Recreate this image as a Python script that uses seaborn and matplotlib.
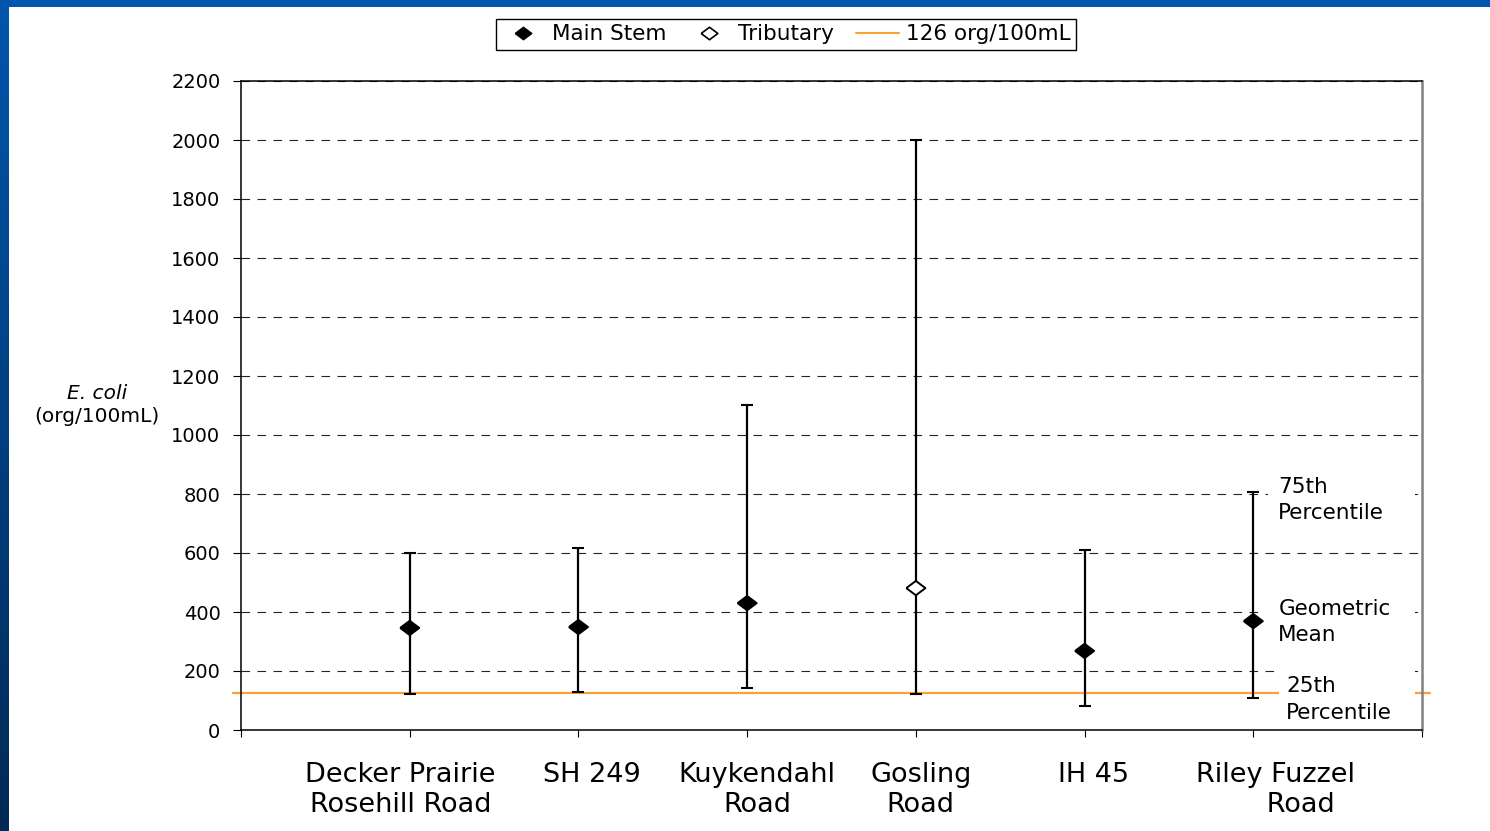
import numpy as np
import pandas as pd
import matplotlib
matplotlib.use("Agg")
import matplotlib.pyplot as plt
from matplotlib.lines import Line2D
from matplotlib.patches import Rectangle
from matplotlib.colors import LinearSegmentedColormap
from matplotlib.transforms import ScaledTranslation
import seaborn as sns

# ---- data -------------------------------------------------------------
sites = ["Decker Prairie\nRosehill Road", "SH 249", "Kuykendahl\nRoad",
         "Gosling\nRoad", "IH 45", "Riley Fuzzel\n      Road"]
geo_mean = [346, 349, 430, 481, 268, 369]
pct25 = [122, 129, 142, 122, 81, 108]
pct75 = [600, 617, 1102, 2000, 610, 807]
site_type = ["Main Stem", "Main Stem", "Main Stem", "Tributary", "Main Stem", "Main Stem"]
criterion = 126
y_ticks = list(range(0, 2201, 200))

df = pd.DataFrame({"site": sites, "gmean": geo_mean, "p25": pct25,
                   "p75": pct75, "kind": site_type})

# ---- style ------------------------------------------------------------
sns.set_theme(style="white")
plt.rcParams["font.family"] = ["DejaVu Sans"]
plt.rcParams["text.color"] = "black"
plt.rcParams["axes.labelcolor"] = "black"
ORANGE = "#F7A232"

W, H = 1490, 831
fig = plt.figure(figsize=(W / 100, H / 100), dpi=100)
fig.patch.set_facecolor("white")

# slide frame: blue strip on the left (vertical gradient) and at the top
band = fig.add_axes([0, 0, 9 / W, 1])
cmap = LinearSegmentedColormap.from_list("band", ["#0056AC", "#002A55"])
band.imshow(np.linspace(0, 1, 256).reshape(-1, 1), aspect="auto", cmap=cmap)
band.set_axis_off()
fig.patches.append(Rectangle((0, 1 - 7 / H), 1, 7 / H, transform=fig.transFigure,
                             facecolor="#0056AC", edgecolor="none"))

ax = fig.add_axes([241 / W, 1 - 730 / H, 1181 / W, 649 / H])

# diamond marker, wider than tall
diamond = [(-1, 0), (0, 0.75), (1, 0), (0, -0.75), (-1, 0)]

# 25th-75th percentile ranges
pos = np.arange(len(df))
ax.errorbar(pos, df["gmean"],
            yerr=[df["gmean"] - df["p25"], df["p75"] - df["gmean"]],
            fmt="none", ecolor="black", elinewidth=1.6, capsize=4.3,
            capthick=1.5, zorder=3)

# geometric means
sns.scatterplot(data=df, x="site", y="gmean", hue="kind", style="kind",
                palette={"Main Stem": "black", "Tributary": "white"},
                markers={"Main Stem": diamond, "Tributary": diamond},
                s=190, edgecolor="black", linewidth=1.4, legend=False,
                ax=ax, zorder=4)

# contact recreation criterion
ax.axhline(criterion, xmin=-0.007, xmax=1.007, color=ORANGE, lw=1.6,
           clip_on=False, zorder=2)

ax.set_xlim(-1, len(df))
ax.set_ylim(0, 2200)
ax.set_yticks(y_ticks)
ax.set_yticklabels([str(v) for v in y_ticks], fontsize=14)
ax.set_xticks(pos)
ax.set_xticklabels([])
ax.set_xticks([-1, len(df)], minor=True)
ax.set_xlabel("")
ax.set_ylabel("")

# site names under the axis, each nudged sideways a little
label_dx = [-9, 13, 10, 5, 9, 22]
for i, (name, dx) in enumerate(zip(df["site"], label_dx)):
    off = ScaledTranslation(dx / 100, -31.5 / 100, fig.dpi_scale_trans)
    ax.text(i, 0, name, transform=ax.get_xaxis_transform() + off,
            fontsize=19.5, ha="center", va="top", multialignment="center",
            linespacing=1.25, color="black")

ax.tick_params(axis="y", which="both", direction="out", length=5.8, width=0.8,
               pad=9, colors="black", left=True)
ax.tick_params(axis="x", which="both", direction="out", length=5, width=0.8,
               colors="black", bottom=True)

# dashed horizontal grid
ax.yaxis.grid(True, color="#222222", lw=0.8, linestyle=(0, (7.7, 6.7)))
ax.xaxis.grid(False)
ax.set_axisbelow(True)

for side in ["left", "bottom", "top"]:
    ax.spines[side].set_visible(True)
    ax.spines[side].set_color("black")
    ax.spines[side].set_linewidth(1.1)
ax.spines["right"].set_visible(True)
ax.spines["right"].set_color("#808080")
ax.spines["right"].set_linewidth(1.8)

# key to the range markers, beside the last site
last = len(df) - 1
notes = [
    ("75th\nPercentile", last + 0.148, 780, (last + 0.09, 695, 0.87, 186)),
    ("Geometric\nMean", last + 0.148, 366, (last + 0.06, 278, 0.90, 190)),
    ("25th\nPercentile", last + 0.196, 103, (last + 0.15, 10, 0.81, 200)),
]
for text, tx, ty, (rx, ry, rw, rh) in notes:
    ax.add_patch(Rectangle((rx, ry), rw, rh, facecolor="white",
                           edgecolor="none", zorder=2.5))
    ax.text(tx, ty, text, fontsize=15.5, ha="left", va="center",
            linespacing=1.42, color="black", zorder=5)

# axis title
fig.text(97 / W, 1 - 393 / H, "E. coli", style="italic", fontsize=14.5,
         ha="center", va="center", color="black")
fig.text(97 / W, 1 - 417 / H, "(org/100mL)", fontsize=14.5,
         ha="center", va="center", color="black")

# legend
handles = [
    Line2D([], [], marker=diamond, color="black", linestyle="none",
           markersize=12, label="Main Stem"),
    Line2D([], [], marker=diamond, markerfacecolor="white",
           markeredgecolor="black", markeredgewidth=1.2, linestyle="none",
           markersize=12, label="Tributary"),
    Line2D([], [], color=ORANGE, lw=1.5, label=f"{criterion} org/100mL"),
]
leg = fig.legend(handles=handles, ncol=3, loc="center",
                 bbox_to_anchor=(786 / W, 1 - 34.5 / H), frameon=True,
                 fancybox=False, edgecolor="black", framealpha=1,
                 fontsize=15.5, handlelength=2, handletextpad=0.35,
                 columnspacing=1.0, borderpad=0.25, borderaxespad=0)
leg.get_frame().set_linewidth(1)
for t in leg.get_texts():
    t.set_color("black")

fig.savefig("out.png", dpi=100, facecolor="white")
